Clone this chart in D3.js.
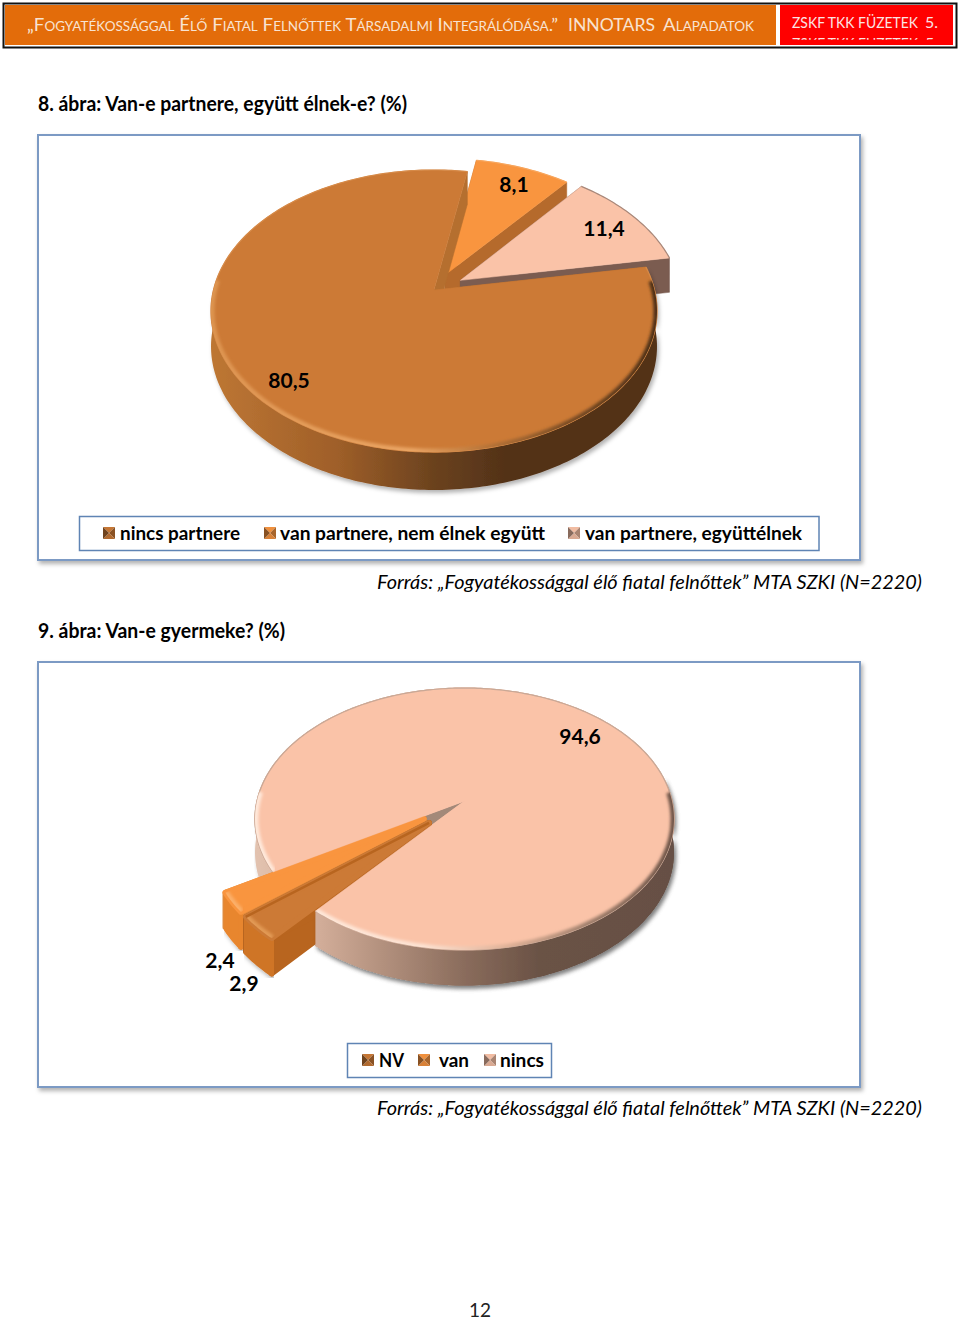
<!DOCTYPE html>
<html>
  <head>
    <title>8-9. ábra</title>
    <meta http-equiv="Content-Type" content="text/html; charset=UTF-8">
    <script src="https://d3js.org/d3.v7.min.js"></script>
    <style>
      html, body { margin: 0; padding: 0; background: #fff; }
      svg { display: block; }
      text { font-family: Lato, "Open Sans", sans-serif; }
    </style>
  </head>
  <body>
    <div id="chart"></div>

    <script>
      var categories8 = ["nincs partnere", "van partnere, nem élnek együtt", "van partnere, együttélnek"];
      var values8 = [80.5, 8.1, 11.4];
      var categories9 = ["NV", "van", "nincs"];
      var values9 = [2.9, 2.4, 94.6];
      var title8 = "8. ábra: Van-e partnere, együtt élnek-e? (%)";
      var title9 = "9. ábra: Van-e gyermeke? (%)";
      var source = "Forrás: „Fogyatékossággal élő fiatal felnőttek” MTA SZKI (N=2220)";

      var svg = d3.select("#chart").append("svg").attr("width", 960).attr("height", 1320);
      var defs = svg.append("defs");

      var shadow = defs.append("filter").attr("id", "shadow")
        .attr("x", "-5%").attr("y", "-5%").attr("width", "112%").attr("height", "112%");
      shadow.append("feDropShadow").attr("dx", 2).attr("dy", 3).attr("stdDeviation", 2)
        .attr("flood-color", "#000").attr("flood-opacity", 0.3);
      defs.append("filter").attr("id", "soft").append("feGaussianBlur").attr("stdDeviation", 1.6);

      // text stretched to the width it has in the page
      function label(g, str, x, y, width, size, opts) {
        opts = opts || {};
        return g.append("text").text(str)
          .attr("x", x).attr("y", y)
          .attr("font-size", size)
          .attr("font-weight", opts.weight || "normal")
          .attr("font-style", opts.style || "normal")
          .attr("fill", opts.fill || "#000")
          .style("font-variant", opts.variant || "normal")
          .attr("textLength", width)
          .attr("lengthAdjust", "spacingAndGlyphs");
      }

      function hGradient(id, x1, x2, stops) {
        var grad = defs.append("linearGradient").attr("id", id)
          .attr("gradientUnits", "userSpaceOnUse")
          .attr("x1", x1).attr("x2", x2).attr("y1", 0).attr("y2", 0);
        stops.forEach(function (s) {
          grad.append("stop").attr("offset", s[0]).attr("stop-color", s[1]);
        });
        return "url(#" + id + ")";
      }

      // cut a filtered list of angles into unbroken runs
      function runs(angles, keep) {
        var out = [], cur = [];
        angles.forEach(function (a) {
          if (keep(a)) { cur.push(a); }
          else if (cur.length) { out.push(cur); cur = []; }
        });
        if (cur.length) { out.push(cur); }
        return out.filter(function (r) { return r.length > 1; });
      }

      function drawHeader() {
        var g = svg.append("g");
        g.append("rect").attr("x", 3.5).attr("y", 3.5).attr("width", 953).attr("height", 44)
          .attr("fill", "#fff").attr("stroke", "#111").attr("stroke-width", 2);
        g.append("rect").attr("x", 5).attr("y", 5).attr("width", 771).attr("height", 40).attr("fill", "#e36c0a");
        g.append("rect").attr("x", 780).attr("y", 5).attr("width", 173).attr("height", 40).attr("fill", "#ff0000");
        var caps = { variant: "small-caps", fill: "#f8e3d2" };
        label(g, "„Fogyatékossággal Élő Fiatal Felnőttek Társadalmi Integrálódása.”", 27, 31, 531, 18, caps);
        label(g, "INNOTARS", 568, 31, 87, 18, { fill: "#f8e3d2" });
        label(g, "Alapadatok", 663, 31, 91, 18, caps);
        label(g, "ZSKF TKK FÜZETEK", 792, 28, 126, 15.5, { fill: "#fbe4e4" });
        label(g, "5.", 925, 28, 13, 15.5, { fill: "#fbe4e4" });
        // second running head, only its top shows under the first
        defs.append("clipPath").attr("id", "headClip").append("rect")
          .attr("x", 780).attr("y", 37.5).attr("width", 173).attr("height", 2.2);
        var cut = g.append("g").attr("clip-path", "url(#headClip)");
        label(cut, "ZSKF TKK FÜZETEK", 792, 49, 126, 15.5, { fill: "#fbe4e4" });
        label(cut, "5.", 925, 49, 13, 15.5, { fill: "#fbe4e4" });
      }

      function marker(g, x, y, color) {
        var s = 12, c = d3.color(color);
        var cx = x + s / 2, cy = y + s / 2;
        var tri = [
          [[x, y], [x + s, y], [cx, cy], c.darker(0.1)],
          [[x + s, y], [x + s, y + s], [cx, cy], c.darker(1.1)],
          [[x, y + s], [x + s, y + s], [cx, cy], c.darker(0.4)],
          [[x, y], [x, y + s], [cx, cy], c.darker(1.7)]
        ];
        tri.forEach(function (t) {
          g.append("path").attr("d", d3.line()(t.slice(0, 3)) + "Z").attr("fill", t[3] + "");
        });
      }

      function drawPie(c) {
        var g = svg.append("g");

        // panel and its legend
        g.append("rect").attr("x", c.panel[0]).attr("y", c.panel[1])
          .attr("width", c.panel[2]).attr("height", c.panel[3])
          .attr("fill", "#fff").attr("stroke", "#7c9ac4").attr("stroke-width", 2)
          .attr("filter", "url(#shadow)");

        var pie = d3.pie().sort(null).startAngle(c.start).endAngle(c.start + 2 * Math.PI);
        var arcs = pie(c.values);

        function project(u, v, z) {
          var w = 1 - c.p * v;
          return [c.cx + c.R * u / w, c.cy + c.Ry * v / w + c.depth * z / Math.sqrt(w)];
        }

        var line = d3.line();
        var wallFill = hGradient(c.id + "wall", c.cx - c.R, c.cx + c.R, c.wall);
        var rimStroke = hGradient(c.id + "rim", c.cx - c.R, c.cx + c.R, c.rim);

        // again=true paints only the later part of the wall plus the top, over exploded slices
        function drawSlice(i, again) {
          var d = arcs[i];
          var mid = (d.startAngle + d.endAngle) / 2;
          var ex = c.explode[i] * Math.sin(mid), ey = -c.explode[i] * Math.cos(mid);
          var at = function (a, z) { return project(Math.sin(a) + ex, -Math.cos(a) + ey, z); };
          var steps = d3.range(d.startAngle, d.endAngle, Math.PI / 180).concat([d.endAngle]);
          var top = steps.map(function (a) { return at(a, 0); });
          var hub0 = project(ex, ey, 0), hub1 = project(ex, ey, 1);
          var slice = g.append("g");
          var round = c.rounded[i] || 0;

          if (!again) {
            [d.startAngle, d.endAngle].forEach(function (a) {
              slice.append("path")
                .attr("d", line([hub0, at(a, 0), at(a, 1), hub1]) + "Z")
                .attr("fill", c.cut[i]).attr("stroke", c.cut[i])
                .attr("stroke-width", 0.5 + round).attr("stroke-linejoin", "round");
            });
          }

          // outer wall, front part only
          runs(steps, function (a) {
            return -Math.cos(a) + ey > -0.2 && (!again || a > d.startAngle + Math.PI);
          }).forEach(function (run) {
            var pts = run.map(function (a) { return at(a, 0); })
              .concat(run.map(function (a) { return at(a, 1); }).reverse());
            slice.append("path").attr("d", line(pts) + "Z")
              .attr("fill", c.wallFlat[i] || wallFill)
              .attr("stroke", c.wallFlat[i] || "none")
              .attr("stroke-width", 0.5 + round).attr("stroke-linejoin", "round")
              .attr("filter", "url(#shadow)");
          });

          // top face with its bevel
          var face = line([hub0].concat(top)) + "Z";
          slice.append("path").attr("d", face).attr("fill", c.colors[i])
            .attr("stroke", c.colors[i])
            .attr("stroke-width", 0.5 + round).attr("stroke-linejoin", "round");
          slice.append("path").attr("d", line(top)).attr("fill", "none")
            .attr("stroke", c.edge[i]).attr("stroke-width", 1.2);
          var clipId = c.id + "clip" + i + (again ? "b" : "");
          defs.append("clipPath").attr("id", clipId).append("path").attr("d", face);
          var bevel = slice.append("g").attr("clip-path", "url(#" + clipId + ")");
          runs(steps, function (a) { return -Math.cos(a) + ey > -0.08; }).forEach(function (run) {
            bevel.append("path").attr("d", line(run.map(function (a) { return at(a, 0); })))
              .attr("fill", "none")
              .attr("stroke", c.rimFlat[i] || rimStroke).attr("stroke-width", 7)
              .attr("filter", "url(#soft)");
          });
          // dark seam along the edge shared with the next exploded slice
          if (c.seam && c.seam[i]) {
            slice.append("path").attr("d", line([hub0, at(d.endAngle, 0)]))
              .attr("stroke", c.seam[i]).attr("stroke-width", 2.5);
          }
        }

        c.order.forEach(function (i) { drawSlice(i, false); });
        if (c.again !== undefined) { drawSlice(c.again, true); }

        c.labels.forEach(function (p, i) {
          g.append("text").text(String(c.values[i]).replace(".", ","))
            .attr("x", p[0]).attr("y", p[1]).attr("text-anchor", "middle")
            .attr("font-size", 21).attr("font-weight", "bold").attr("fill", "#000");
        });

        g.append("rect").attr("x", c.legend[0]).attr("y", c.legend[1])
          .attr("width", c.legend[2]).attr("height", c.legend[3])
          .attr("fill", "#fff").attr("stroke", "#5f84b4").attr("stroke-width", 1.5);
        c.categories.forEach(function (name, i) {
          var e = c.legendItems[i];
          marker(g, e[0], c.legend[1] + 10.5, c.colors[i]);
          label(g, name, e[1], c.legend[1] + 23, e[2], 19, { weight: "bold" });
        });
      }

      drawHeader();
      label(svg, title8, 38, 111, 369, 20, { weight: "bold" });
      drawPie({
        id: "c8", categories: categories8, values: values8,
        colors: ["#cc7a36", "#f9953f", "#fac3a8"],
        cut: ["#b56f2f", "#b56a2c", "#7b5c50"],
        edge: ["#d68a48", "#f7a55c", "#a8887a"],
        wallFlat: [null, null, null],
        rimFlat: [null, null, null],
        rounded: [0, 0, 0],
        wall: [[0, "#bd7633"], [0.28, "#9f5f29"], [0.5, "#6b421e"], [0.66, "#533218"], [1, "#533218"]],
        rim: [[0, "#dd9450"], [0.45, "#eaa564"], [0.62, "#b77438"], [0.8, "#7c4d24"], [1, "#4d2f16"]],
        cx: 434, cy: 290, R: 220.5, Ry: 137.9, p: 0.149, depth: 35,
        start: 80.2 * Math.PI / 180,
        explode: [0, 0.12, 0.14],
        order: [1, 2, 0],
        labels: [[289, 388], [514, 192], [604, 236]],
        panel: [38, 135, 822, 425],
        legend: [79.5, 516.5, 739.5, 34],
        legendItems: [[103, 120, 120], [264, 280, 265], [568, 585, 217]]
      });
      label(svg, source, 377, 589, 545, 19, { style: "italic" });

      label(svg, title9, 38, 638, 247, 20, { weight: "bold" });
      drawPie({
        id: "c9", categories: categories9, values: values9,
        colors: ["#cc7a36", "#f9953f", "#fac3a8"],
        cut: ["#b8651f", "#e08a3c", "#a38979"],
        edge: ["#cc7a36", "#f9953f", "#c9a896"],
        wallFlat: ["#cf7528", "#e8862f", null],
        rimFlat: ["#e29a55", "#fbb06a", null],
        rounded: [5, 5, 0],
        seam: ["#b8651f", null, null],
        wall: [[0, "#e2c2af"], [0.15, "#d2ad99"], [0.3, "#b3917e"], [0.5, "#8a6c5c"], [0.68, "#6a5245"], [1, "#665045"]],
        rim: [[0, "#ffe9db"], [0.4, "#fde2d2"], [0.6, "#e0b298"], [0.8, "#a07f6c"], [1, "#6f5548"]],
        cx: 464.5, cy: 801, R: 207.5, Ry: 128.5, p: 0.1375, depth: 33,
        start: 220 * Math.PI / 180,
        explode: [0.235, 0.235, 0],
        order: [2, 1, 0],
        again: 2,
        labels: [[244, 991], [220, 968], [580, 744]],
        panel: [38, 662, 822, 425],
        legend: [347.5, 1043.5, 204, 34],
        legendItems: [[362, 379, 25], [418, 439, 30], [484, 500, 44]]
      });
      label(svg, source, 377, 1115, 545, 19, { style: "italic" });

      svg.append("text").text("12").attr("x", 480).attr("y", 1317)
        .attr("text-anchor", "middle").attr("font-size", 19).attr("fill", "#222");
    </script>
  </body>
</html>
